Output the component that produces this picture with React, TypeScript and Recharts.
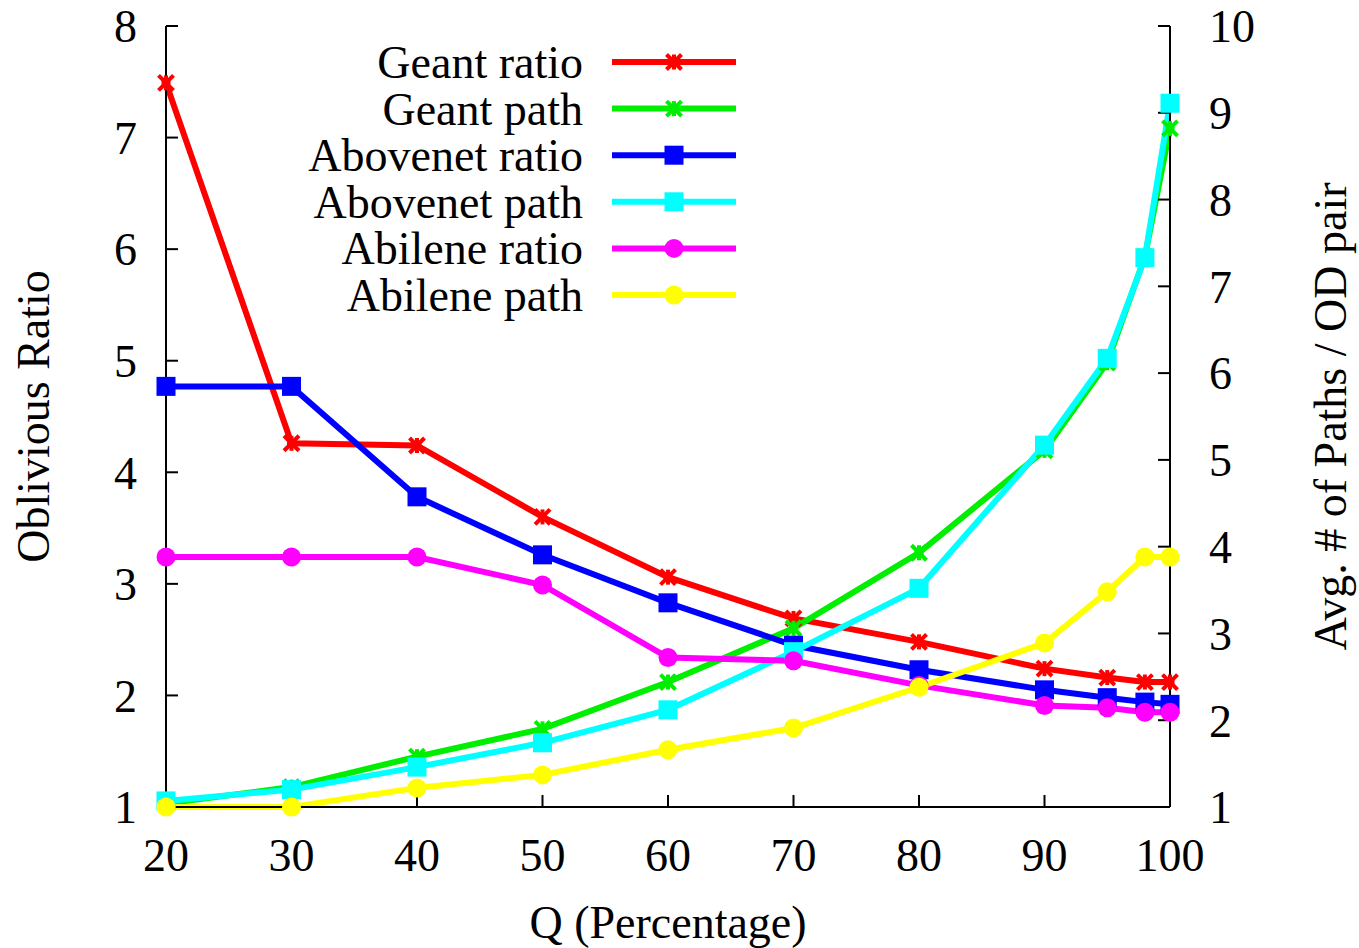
import React from 'react';
import { LineChart, Line, XAxis, YAxis } from 'recharts';

// Q (percentage) sample points
const qValues = [20, 30, 40, 50, 60, 70, 80, 90, 95, 98, 100];

// left axis: oblivious ratio
const geantRatio = [7.49, 4.26, 4.24, 3.6, 3.06, 2.69, 2.48, 2.24, 2.16, 2.12, 2.12];
const abovenetRatio = [4.77, 4.77, 3.78, 3.26, 2.83, 2.45, 2.23, 2.05, 1.98, 1.94, 1.92];
const abileneRatio = [3.24, 3.24, 3.24, 2.99, 2.34, 2.31, 2.09, 1.91, 1.89, 1.85, 1.85];

// right axis: avg # of paths per OD pair
const geantPath = [1.04, 1.23, 1.58, 1.9, 2.44, 3.06, 3.93, 5.11, 6.12, 7.34, 8.82];
const abovenetPath = [1.07, 1.2, 1.46, 1.74, 2.12, 2.79, 3.52, 5.17, 6.17, 7.33, 9.11];
const abilenePath = [1.0, 1.0, 1.22, 1.37, 1.66, 1.91, 2.38, 2.89, 3.48, 3.88, 3.88];

const xTicks = [20, 30, 40, 50, 60, 70, 80, 90, 100];
const leftTicks = [1, 2, 3, 4, 5, 6, 7, 8];
const rightTicks = [1, 2, 3, 4, 5, 6, 7, 8, 9, 10];

const data = qValues.map((q, i) => ({
  q,
  geantRatio: geantRatio[i],
  geantPath: geantPath[i],
  abovenetRatio: abovenetRatio[i],
  abovenetPath: abovenetPath[i],
  abileneRatio: abileneRatio[i],
  abilenePath: abilenePath[i],
}));

type Shape = 'star' | 'square' | 'circle';

const series: { key: string; name: string; color: string; axis: string; shape: Shape }[] = [
  { key: 'geantRatio', name: 'Geant ratio', color: '#ff0000', axis: 'left', shape: 'star' },
  { key: 'geantPath', name: 'Geant path', color: '#00ee00', axis: 'right', shape: 'star' },
  { key: 'abovenetRatio', name: 'Abovenet ratio', color: '#0000ff', axis: 'left', shape: 'square' },
  { key: 'abovenetPath', name: 'Abovenet path', color: '#00ffff', axis: 'right', shape: 'square' },
  { key: 'abileneRatio', name: 'Abilene ratio', color: '#ff00ff', axis: 'left', shape: 'circle' },
  { key: 'abilenePath', name: 'Abilene path', color: '#ffff00', axis: 'right', shape: 'circle' },
];

const FONT = '"Liberation Serif", "Times New Roman", serif';
const tickStyle = { fill: '#000', fontSize: 46, fontFamily: FONT };

function Marker({ cx, cy, shape, color }: { cx: number; cy: number; shape: Shape; color: string }) {
  if (cx == null || cy == null) return <g />;
  if (shape === 'square') {
    return <rect x={cx - 9.5} y={cy - 9.5} width={19} height={19} fill={color} />;
  }
  if (shape === 'circle') {
    return <circle cx={cx} cy={cy} r={9.5} fill={color} />;
  }
  const s = 7.5;
  return (
    <g stroke={color} strokeWidth={4}>
      <line x1={cx - s} y1={cy - s} x2={cx + s} y2={cy + s} />
      <line x1={cx - s} y1={cy + s} x2={cx + s} y2={cy - s} />
      <line x1={cx} y1={cy - s} x2={cx} y2={cy + s} />
      <line x1={cx - s * 0.6} y1={cy} x2={cx + s * 0.6} y2={cy} />
    </g>
  );
}

function LegendBox() {
  return (
    <svg width={470} height={300} style={{ position: 'absolute', left: 290, top: 30, overflow: 'visible' }}>
      {series.map((s, i) => {
        const y = 32 + i * 46.6;
        return (
          <g key={s.key}>
            <text x={293} y={y + 16} textAnchor="end" fontSize={46} fontFamily={FONT} fill="#000">
              {s.name}
            </text>
            <line x1={322} x2={446} y1={y} y2={y} stroke={s.color} strokeWidth={6} />
            <Marker cx={384} cy={y} shape={s.shape} color={s.color} />
          </g>
        );
      })}
    </svg>
  );
}

export default function App() {
  return (
    <div style={{ position: 'absolute', left: 0, top: 0, width: 1359, height: 948, background: '#fff' }}>
      <LineChart width={1359} height={948} data={data} margin={{ top: 26, right: 69, left: 46, bottom: 81 }}>
        <XAxis
          dataKey="q"
          type="number"
          domain={[20, 100]}
          ticks={xTicks}
          interval={0}
          height={60}
          tickSize={-12}
          tickMargin={43}
          tick={tickStyle}
          axisLine={{ stroke: '#000', strokeWidth: 2 }}
          tickLine={{ stroke: '#000', strokeWidth: 2 }}
          label={{
            content: ({ viewBox }: any) => (
              <text
                x={viewBox.x + viewBox.width / 2}
                y={viewBox.y + 131}
                textAnchor="middle"
                fontSize={46}
                fontFamily={FONT}
                fill="#000"
              >
                Q (Percentage)
              </text>
            ),
          }}
        />
        <XAxis
          xAxisId="top"
          orientation="top"
          dataKey="q"
          type="number"
          domain={[20, 100]}
          ticks={xTicks}
          interval={0}
          height={0}
          tickSize={-12}
          tick={false}
          axisLine={{ stroke: '#000', strokeWidth: 2 }}
          tickLine={{ stroke: '#000', strokeWidth: 2 }}
        />
        <YAxis
          yAxisId="left"
          type="number"
          domain={[1, 8]}
          ticks={leftTicks}
          interval={0}
          width={120}
          tickSize={-12}
          tickMargin={41}
          tick={tickStyle}
          axisLine={{ stroke: '#000', strokeWidth: 2 }}
          tickLine={{ stroke: '#000', strokeWidth: 2 }}
          label={{
            content: ({ viewBox }: any) => {
              const x = viewBox.x + 3;
              const y = viewBox.y + viewBox.height / 2;
              return (
                <text x={x} y={y} transform={`rotate(-90, ${x}, ${y})`} textAnchor="middle" fontSize={46} fontFamily={FONT} fill="#000">
                  Oblivious Ratio
                </text>
              );
            },
          }}
        />
        <YAxis
          yAxisId="right"
          orientation="right"
          type="number"
          domain={[1, 10]}
          ticks={rightTicks}
          interval={0}
          width={120}
          tickSize={-12}
          tickMargin={51}
          tick={tickStyle}
          axisLine={{ stroke: '#000', strokeWidth: 2 }}
          tickLine={{ stroke: '#000', strokeWidth: 2 }}
          label={{
            content: ({ viewBox }: any) => {
              const x = viewBox.x + 176;
              const y = viewBox.y + viewBox.height / 2;
              return (
                <text x={x} y={y} transform={`rotate(-90, ${x}, ${y})`} textAnchor="middle" fontSize={46} fontFamily={FONT} fill="#000">
                  Avg. # of Paths / OD pair
                </text>
              );
            },
          }}
        />
        {series.map((s) => (
          <Line
            key={s.key}
            yAxisId={s.axis}
            dataKey={s.key}
            name={s.name}
            type="linear"
            stroke={s.color}
            strokeWidth={6}
            isAnimationActive={false}
            dot={(p: any) => <Marker key={`${s.key}-${p.index}`} cx={p.cx} cy={p.cy} shape={s.shape} color={s.color} />}
            activeDot={false}
          />
        ))}
      </LineChart>
      <LegendBox />
    </div>
  );
}
